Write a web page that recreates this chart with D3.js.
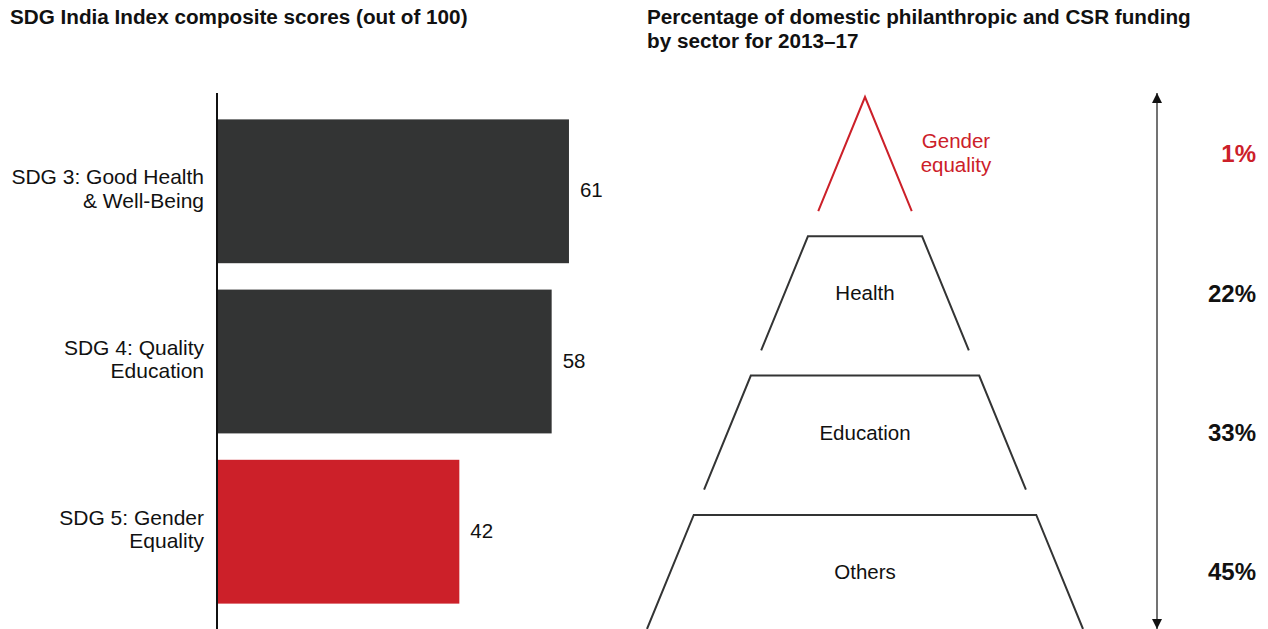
<!DOCTYPE html>
<html>
<head>
<meta charset="utf-8">
<script src="https://cdn.jsdelivr.net/npm/d3@7/dist/d3.min.js"></script>
<style>
  body { margin: 0; background: #fff; }
  svg { display: block; font-family: "Liberation Sans", Arial, sans-serif; }
</style>
</head>
<body>
<svg width="1268" height="629"></svg>
<script>
var width = 1268,
    height = 629;

// left panel data
var sdgGoals = ["SDG 3", "SDG 4", "SDG 5"];
var sdgLabels = [["SDG 3: Good Health", "& Well-Being"],
                 ["SDG 4: Quality", "Education"],
                 ["SDG 5: Gender", "Equality"]];
var sdgScores = [61, 58, 42];

// right panel data
var sectors = ["Gender equality", "Health", "Education", "Others"];
var sectorLines = [["Gender", "equality"], ["Health"], ["Education"], ["Others"]];
var sectorShares = [1, 22, 33, 45];

var dark = "#333434",
    red = "#cc2029";

var svg = d3.select("svg")
    .attr("width", width)
    .attr("height", height);

// titles
svg.append("text")
    .attr("x", 10).attr("y", 24)
    .attr("font-size", 20.7).attr("font-weight", "bold").attr("fill", "#111")
    .text("SDG India Index composite scores (out of 100)");

var t2 = svg.append("text")
    .attr("font-size", 20.7).attr("font-weight", "bold").attr("fill", "#111");
t2.append("tspan").attr("x", 647).attr("y", 24).text("Percentage of domestic philanthropic and CSR funding");
t2.append("tspan").attr("x", 647).attr("y", 48).text("by sector for 2013\u201317");

// ---- bar chart ----
var x = d3.scaleLinear().domain([0, 100]).range([217, 794]);
var y = d3.scaleBand().domain(sdgGoals).range([93, 630]).paddingInner(0.155).paddingOuter(0.155);
var barColor = d3.scaleOrdinal().domain(sdgGoals).range([dark, dark, red]);

var bars = svg.append("g").attr("class", "bars")
    .selectAll("g")
    .data(sdgGoals)
    .enter()
    .append("g");

bars.append("rect")
    .attr("x", x(0))
    .attr("y", function (d) { return y(d); })
    .attr("width", function (d, i) { return x(sdgScores[i]) - x(0); })
    .attr("height", y.bandwidth())
    .attr("fill", function (d) { return barColor(d); });

bars.append("text")
    .attr("x", function (d, i) { return x(sdgScores[i]) + 11; })
    .attr("y", function (d) { return y(d) + y.bandwidth() / 2; })
    .attr("dy", "0.3em")
    .attr("font-size", 20.5).attr("fill", "#111")
    .text(function (d, i) { return sdgScores[i]; });

bars.each(function (d, i) {
    var c = y(d) + y.bandwidth() / 2;
    var t = d3.select(this).append("text")
        .attr("text-anchor", "end")
        .attr("font-size", 21).attr("fill", "#111");
    sdgLabels[i].forEach(function (line, j) {
        t.append("tspan").attr("x", 204).attr("y", c - 7 + j * 23.5).text(line);
    });
});

svg.append("line")
    .attr("x1", x(0)).attr("x2", x(0))
    .attr("y1", 93).attr("y2", height)
    .attr("stroke", "#111").attr("stroke-width", 2);

// ---- pyramid ----
var cx = 865;
var py = d3.scaleBand().domain(sectors).range([97, 629]).paddingInner(0.181).paddingOuter(0);
var halfW = d3.scaleLinear().domain([97, 629]).range([0, 218]);
var levelColor = d3.scaleOrdinal().domain(sectors).range([red, dark, dark, dark]);

var levels = svg.append("g").attr("class", "pyramid")
    .selectAll("g")
    .data(sectors)
    .enter()
    .append("g");

levels.append("path")
    .attr("fill", "none")
    .attr("stroke", function (d) { return levelColor(d); })
    .attr("stroke-width", 2)
    .attr("stroke-linejoin", "miter")
    .attr("d", function (d) {
        var top = py(d), bot = py(d) + py.bandwidth();
        return d3.line()([
            [cx - halfW(bot), bot],
            [cx - halfW(top), top],
            [cx + halfW(top), top],
            [cx + halfW(bot), bot]
        ]);
    });

levels.each(function (d, i) {
    var c = py(d) + py.bandwidth() / 2;
    var lines = sectorLines[i];
    var lx = i === 0 ? 956 : cx;
    var t = d3.select(this).append("text")
        .attr("text-anchor", "middle")
        .attr("font-size", 20.5)
        .attr("fill", i === 0 ? red : "#111");
    lines.forEach(function (line, j) {
        t.append("tspan")
            .attr("x", lx)
            .attr("y", c + 7 - (lines.length - 1) * 13 + j * 24)
            .text(line);
    });
});

levels.append("text")
    .attr("x", 1256)
    .attr("y", function (d) { return py(d) + py.bandwidth() / 2; })
    .attr("dy", "0.35em")
    .attr("text-anchor", "end")
    .attr("font-size", 24).attr("font-weight", "bold")
    .attr("fill", function (d, i) { return i === 0 ? red : "#111"; })
    .text(function (d, i) { return sectorShares[i] + "%"; });

// double-headed arrow
var defs = svg.append("defs");
["start", "end"].forEach(function (k) {
    defs.append("marker")
        .attr("id", "arrow-" + k)
        .attr("viewBox", "0 0 10 10")
        .attr("refX", 10).attr("refY", 5)
        .attr("markerUnits", "userSpaceOnUse")
        .attr("markerWidth", 10).attr("markerHeight", 10)
        .attr("orient", k === "start" ? "auto-start-reverse" : "auto")
        .append("path")
        .attr("d", "M0,0L10,5L0,10Z")
        .attr("fill", "#111");
});

svg.append("line")
    .attr("x1", 1157).attr("x2", 1157)
    .attr("y1", 93).attr("y2", 629)
    .attr("stroke", "#444").attr("stroke-width", 1.5)
    .attr("marker-start", "url(#arrow-start)")
    .attr("marker-end", "url(#arrow-end)");
</script>
</body>
</html>
